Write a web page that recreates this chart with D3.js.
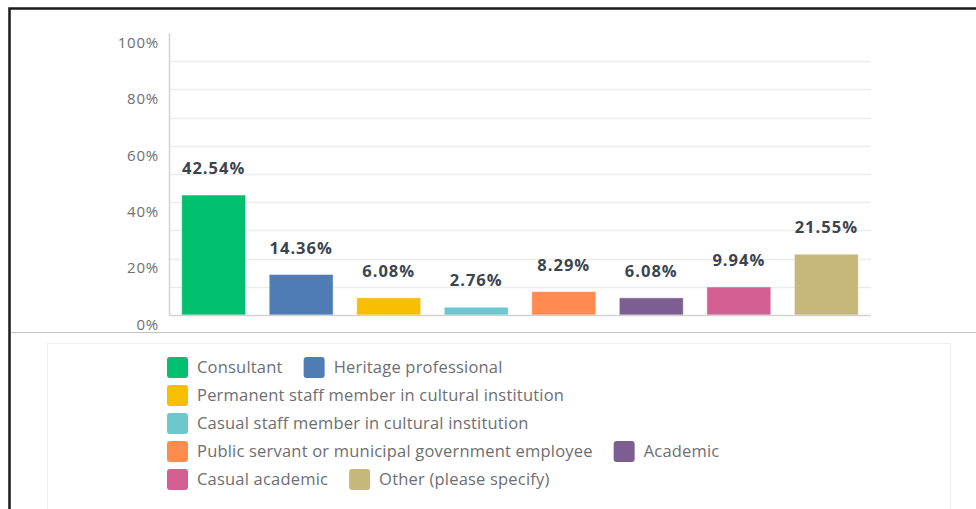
<!DOCTYPE html>
<html>
<head>
<meta charset="utf-8">
<script src="https://cdn.jsdelivr.net/npm/d3@7"></script>
<style>
  html, body { margin: 0; padding: 0; background: #fff; }
  svg { display: block; }
</style>
</head>
<body>
<svg id="chart" width="976" height="509"></svg>
<script>
// Answer categories, shares (%) and colours
const categories = [
  "Consultant",
  "Heritage professional",
  "Permanent staff member in cultural institution",
  "Casual staff member in cultural institution",
  "Public servant or municipal government employee",
  "Academic",
  "Casual academic",
  "Other (please specify)"
];
const shares = [42.54, 14.36, 6.08, 2.76, 8.29, 6.08, 9.94, 21.55];
const colors = ["#00bf6f", "#507cb6", "#f9be00", "#6bc8cd", "#ff8b4f", "#7d5e90", "#d25f90", "#c6b77a"];
const gridValues = [10, 20, 30, 40, 50, 60, 70, 80, 90];
const tickValues = [0, 20, 40, 60, 80, 100];

const data = categories.map((c, i) => ({ name: c, value: shares[i], color: colors[i] }));

const svg = d3.select("#chart");
const font = "'Open Sans', 'Noto Sans', sans-serif";

// Outer frame and divider
svg.append("rect")
  .attr("x", 9.5).attr("y", 8.5)
  .attr("width", 1000).attr("height", 600)
  .attr("fill", "none").attr("stroke", "#1a1a1a").attr("stroke-width", 2.5);
svg.append("line")
  .attr("x1", 11).attr("x2", 976).attr("y1", 332.5).attr("y2", 332.5)
  .attr("stroke", "#c4c4c4").attr("stroke-width", 1);

// Legend panel
svg.append("rect")
  .attr("x", 47.5).attr("y", 343.5).attr("width", 903).attr("height", 200)
  .attr("fill", "#fff").attr("stroke", "#efefef").attr("stroke-width", 1);

// Plot area
const plot = { left: 169, right: 871, top: 33, bottom: 315 };

const x = d3.scaleBand()
  .domain(categories)
  .range([plot.left, plot.right])
  .paddingInner(0.27)
  .paddingOuter(0.145);

const y = d3.scaleLinear()
  .domain([0, 100])
  .range([plot.bottom, plot.top]);

// Gridlines
svg.append("g")
  .selectAll("line")
  .data(gridValues)
  .join("line")
  .attr("x1", plot.left).attr("x2", plot.right)
  .attr("y1", d => Math.round(y(d)) + 0.5).attr("y2", d => Math.round(y(d)) + 0.5)
  .attr("stroke", "#ececec").attr("stroke-width", 1.5);

// Y axis (labels sit slightly below their gridline)
const yAxis = d3.axisLeft(y)
  .tickValues(tickValues)
  .tickSize(0)
  .tickPadding(10)
  .tickFormat(d => d + "%");
const yg = svg.append("g")
  .attr("transform", `translate(${plot.left},0)`)
  .call(yAxis);
yg.select(".domain").attr("stroke", "#d3d3d3").attr("stroke-width", 1.5);
yg.selectAll(".tick text")
  .attr("dy", "0.95em")
  .attr("fill", "#6d6e71")
  .style("font-family", font)
  .style("font-size", "15px")
  .style("letter-spacing", "0.8px");

// Bars
svg.append("g")
  .selectAll("rect")
  .data(data)
  .join("rect")
  .attr("x", d => x(d.name))
  .attr("width", x.bandwidth())
  .attr("y", d => y(d.value))
  .attr("height", d => y(0) - y(d.value))
  .attr("fill", d => d.color)
  .attr("stroke", "rgba(255,255,255,0.45)")
  .attr("stroke-width", 1);

// Baseline
svg.append("line")
  .attr("x1", plot.left).attr("x2", plot.right)
  .attr("y1", plot.bottom + 0.5).attr("y2", plot.bottom + 0.5)
  .attr("stroke", "#d3d3d3").attr("stroke-width", 1.5);

// Value labels
svg.append("g")
  .selectAll("text")
  .data(data)
  .join("text")
  .attr("x", d => x(d.name) + x.bandwidth() / 2)
  .attr("y", d => y(d.value) - 21)
  .attr("text-anchor", "middle")
  .attr("fill", "#3b4550")
  .style("font-family", font)
  .style("font-weight", "700")
  .style("font-size", "16.5px")
  .style("letter-spacing", "1px")
  .text(d => d.value.toFixed(2) + "%");

// Legend: items flow left to right and wrap within the legend width
const legend = { left: 167, maxRight: 800, top: 357, rowStep: 28, sw: 21, sh: 21, textGap: 9, itemGap: 21 };
const lg = svg.append("g");
let cx = legend.left, row = 0;
data.forEach(d => {
  const item = lg.append("g");
  const label = item.append("text")
    .attr("fill", "#6d6e71")
    .style("font-family", font)
    .style("font-size", "16.5px")
    .style("letter-spacing", "0.2px")
    .text(d.name);
  const w = legend.sw + legend.textGap + label.node().getComputedTextLength();
  if (cx > legend.left && cx + w > legend.maxRight) { row += 1; cx = legend.left; }
  const ty = legend.top + row * legend.rowStep;
  item.insert("rect", "text")
    .attr("x", cx).attr("y", ty)
    .attr("width", legend.sw).attr("height", legend.sh)
    .attr("rx", 3).attr("fill", d.color);
  label.attr("x", cx + legend.sw + legend.textGap)
    .attr("y", ty + legend.sh / 2)
    .attr("dy", "0.35em");
  cx += w + legend.itemGap;
});
</script>
</body>
</html>
